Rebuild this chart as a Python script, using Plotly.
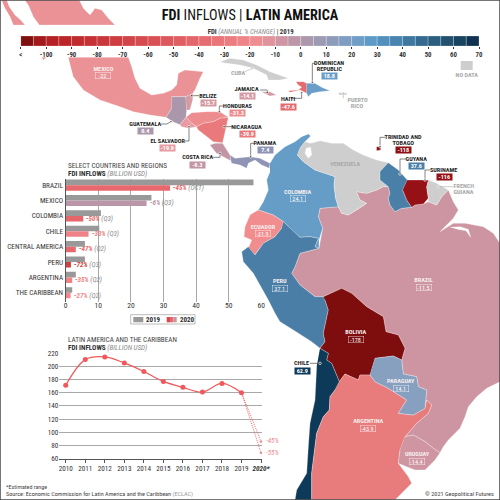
import plotly.graph_objects as go

# ---------- DATA ----------
bar_categories = ["BRAZIL", "MEXICO", "COLOMBIA", "CHILE", "CENTRAL AMERICA", "PERU", "ARGENTINA", "THE CARIBBEAN"]
fdi_2019 = [57.6, 26.3, 10.8, 10.3, 5.9, 5.9, 3.1, 2.0]
fdi_2020 = [32.0, 24.8, 5.4, 7.0, 3.1, 1.6, 2.0, 1.5]
bar_change = ["-45%", "-6%", "-50%", "-33%", "-47%", "-72%", "-35%", "-27%"]
bar_period = ["(OCT)", "(Q3)", "(Q3)", "(Q3)", "(Q2)", "(Q3)", "(Q2)", "(Q2)"]
bar_colors_2020 = ["#e8696d", "#bb96a8", "#e5676b", "#ef8286", "#e5696d", "#d13e42", "#ee8387", "#f0898d"]

years = [2010, 2011, 2012, 2013, 2014, 2015, 2016, 2017, 2018, 2019]
inflows = [171, 210, 214, 205, 192, 177, 168, 161, 174, 160]
est_years = [2019, 2020]
est_high = [160, 86]
est_low = [160, 69]

scale_bins = [-107.5, -102.5, -97.5, -92.5, -87.5, -82.5, -77.5, -72.5, -67.5, -62.5, -57.5, -52.5,
              -47.5, -42.5, -37.5, -32.5, -27.5, -22.5, -17.5, -12.5, -7.5, -2.5, 2.5, 7.5, 12.5, 17.5,
              22.5, 27.5, 32.5, 37.5, 42.5, 47.5, 52.5, 57.5, 62.5, 67.5]
scale_colors = ["#80100f", "#a31a1c", "#b52125", "#bb2629", "#c02b2f", "#c53135", "#c9373b", "#cd3e41", "#d14448",
                "#d54b4f", "#d95155", "#dc585c", "#e05f63", "#e3666a", "#e66d71", "#ea7478", "#ed7c80", "#f08589",
                "#ee8e92", "#e0939a", "#cd96a2", "#bd97a8", "#ac98ad", "#9d9bb3", "#8e9cba", "#7f9dc0", "#709dc6",
                "#5f9bc9", "#5290bd", "#4884af", "#3e789f", "#356b90", "#2c5e80", "#225170", "#194460", "#0f3350"]
scale_ticks = [-110, -100, -90, -80, -70, -60, -50, -40, -30, -20, -10, 0, 10, 20, 30, 40, 50, 60, 70]
scale_labels = ["<", "-100", "-90", "-80", "-70", "-60", "-50", "-40", "-30", "-20", "-10", "0", "10", "20", "30", "40", "50", "60", "70"]

# Outlines, (x, y) in the 3x crop units of each crop
def top(p): return [(a / 3, b / 3) for a, b in p]
def mid(p): return [(220 + a / 3, 130 + b / 3) for a, b in p]
def low(p): return [(260 + a / 3, 300 + b / 3) for a, b in p]

GRAY = "#cecece"
mexico_north = top([(75,0),(238,0),(250,25),(270,45),(285,25),(305,30),(325,55),(345,75),(118,75),(100,50),(85,15)])
baja = top([(5,0),(20,0),(28,20),(45,45),(62,60),(75,75),(40,75),(30,50),(15,25)])
baja_tip = top([(125,172),(140,172),(130,180)])
mexico = top([(205,172),(385,172),(395,200),(405,235),(420,265),(455,285),(490,280),(515,270),(530,255),(535,220),
              (555,210),(610,215),(600,235),(585,270),(575,285),(557,290),(515,290),(515,325),(498,352),(450,345),
              (400,335),(360,320),(300,300),(250,270),(220,230)])
guatemala = top([(515,290),(557,290),(560,330),(558,352),(540,374),(520,366),(498,352),(515,325)])
belize = top([(557,290),(580,280),(578,300),(570,330),(560,330)])
honduras = top([(558,352),(575,338),(620,335),(660,335),(685,352),(660,355),(640,365),(610,370),(590,380),(575,370)])
nicaragua = top([(590,380),(610,370),(640,365),(660,355),(685,352),(675,400),(668,428),(640,425),(615,405),(595,390)])
salvador = top([(540,374),(558,352),(575,370),(590,380),(565,385),(545,380)])
costa_rica = top([(630,435),(645,430),(668,430),(690,465),(692,482),(670,470),(650,460)])
panama = mid([(30,75),(45,85),(90,80),(120,85),(150,100),(148,115),(125,105),(105,90),(85,100),(80,115),(60,105),(35,100)])
cuba = top([(660,185),(690,175),(730,180),(770,195),(810,215),(865,235),(840,240),(805,240),(800,225),(760,205),(720,195),(680,190)])
jamaica = top([(785,275),(810,275),(830,285),(810,288)])
haiti = top([(888,245),(910,245),(920,250),(920,280),(900,270),(870,277),(865,272),(895,270),(905,262),(895,255)])
dominican = top([(920,250),(945,250),(965,262),(990,272),(960,275),(935,280),(925,290),(920,280)])
puerto_rico = top([(1015,278),(1040,278),(1040,285),(1018,285)])
trinidad = top([(1130,440),(1142,440),(1142,450),(1130,452)])
colombia = mid([(150,100),(165,75),(195,50),(225,35),(245,20),(265,12),(272,18),(255,35),(240,55),(232,75),(250,95),
                (285,120),(315,130),(345,140),(342,165),(347,205),(355,230),(300,235),(295,260),(308,295),(297,330),
                (297,355),(285,350),(295,325),(270,320),(240,322),(215,300),(190,275),(160,255),(115,240),(130,215),
                (145,180),(140,150),(150,125)])
venezuela = mid([(240,55),(255,35),(272,40),(300,32),(335,40),(370,40),(400,60),(430,75),(470,90),(505,98),(480,125),
                 (480,150),(505,170),(490,170),(470,180),(440,190),(410,185),(420,210),(440,220),(410,240),(385,255),
                 (365,250),(355,230),(347,205),(342,165),(345,140),(315,130),(285,120),(250,95),(232,75)])
maracaibo = mid([(258,55),(272,52),(275,75),(265,85),(255,70)])
guyana = mid([(505,98),(535,120),(562,150),(548,180),(560,210),(575,232),(545,235),(525,245),(510,225),(505,205),
              (510,190),(505,170),(480,150),(480,125)])
suriname = mid([(562,150),(625,150),(620,170),(625,205),(610,222),(585,225),(575,232),(560,210),(548,180)])
french_guiana = mid([(625,150),(650,160),(685,180),(665,200),(650,225),(625,215),(625,205),(620,170)])
ecuador = mid([(115,240),(160,255),(190,275),(185,295),(165,320),(130,340),(115,360),(105,375),(85,355),(95,330),(72,320),(75,290),(90,255)])
peru = mid([(190,275),(215,300),(240,322),(270,320),(295,325),(285,350),(297,355),(240,370),(225,410),(215,430),(240,465),(285,500),(310,500)]) + \
       low([(195,0),(205,30),(190,100),(195,125),(180,145),(155,125),(100,90),(60,65),(45,40),(25,0)]) + \
       mid([(100,430),(70,395),(65,365),(85,350),(105,375),(115,360),(130,340),(165,320),(185,295)])
brazil = mid([(410,185),(440,190),(470,180),(490,170),(505,170),(510,190),(505,205),(510,225),(525,245),(545,235),(575,232),(585,225),(610,222),(625,215),
              (650,225),(665,200),(685,180),(700,215),(715,240),(700,265),(680,285),(660,305),(700,280),(735,280),(790,290),
              (820,310),(840,340),(900,340),(900,760)]) + \
         low([(720,245),(680,265),(650,290),(625,320),(615,350),(600,385),(580,405),(565,420),(550,440),(540,458),(520,445),
              (495,425),(460,405),(435,410),(470,370),(505,340),(515,315),(500,300),(495,325),(500,270),(475,260),(470,230),
              (430,222),(425,180),(435,145),(415,105),(378,95),(370,50),(320,20),(275,-20),(245,-35),(190,-10)]) + \
         mid([(285,500),(240,465),(215,430),(225,410),(240,370),(297,355),(308,295),(295,260),(300,235),(355,230),(365,250),
              (385,255),(410,240),(440,220),(420,210)])
amazon_mouth = mid([(690,292),(720,290),(745,298),(752,322),(738,302),(712,298)])
bolivia = low([(190,-10),(245,-35),(275,-20),(320,20),(370,50),(378,95),(415,105),(435,145),(425,180),(400,168),(345,175),
               (330,225),(300,225),(295,240),(255,222),(238,245),(215,190),(200,180),(205,160),(180,145),(195,125),(190,100),(205,30),(195,0)])
chile = low([(180,145),(205,160),(200,180),(215,190),(238,245),(225,270),(210,290),(208,330),(190,350),(170,400),(165,440),
             (155,520),(155,600),(105,600),(110,570),(140,520),(145,440),(150,370),(165,300),(170,200)])
argentina = low([(238,245),(255,222),(295,240),(300,225),(330,225),(345,245),(385,265),(440,300),(415,340),(460,345),(495,325),
                 (500,300),(515,315),(505,340),(470,370),(435,410),(420,450),(415,490),(430,510),(445,530),(455,550),(430,575),
                 (405,600),(155,600),(155,520),(165,440),(170,400),(190,350),(208,330),(210,290),(225,270)])
paraguay = low([(345,175),(400,168),(425,180),(430,222),(470,230),(475,260),(500,270),(495,325),(460,345),(415,340),(440,300),(385,265),(345,245),(330,225)])
uruguay = low([(435,410),(460,405),(495,425),(520,445),(540,458),(525,480),(495,510),(465,510),(440,500),(415,490),(420,450)])

map_shapes = [
    (brazil, "#cd95a1"), (amazon_mouth, "#ffffff"), (mexico_north, "#ea9296"), (baja, "#ea9296"), (baja_tip, "#ea9296"), (mexico, "#ea9296"),
    (guatemala, "#ab97ac"), (belize, "#d69aa2"), (honduras, "#ee8d8f"), (nicaragua, "#e9797b"), (salvador, "#e79aa0"),
    (costa_rica, "#c394a3"), (panama, "#8f94b5"), (cuba, GRAY), (jamaica, "#d69aa4"), (haiti, "#e66a6e"),
    (dominican, "#6a9dc8"), (puerto_rico, GRAY), (trinidad, "#8e1014"), (colombia, "#669dc7"), (venezuela, GRAY),
    (maracaibo, "#ffffff"), (guyana, "#4a80a8"), (suriname, "#961116"), (french_guiana, GRAY), (ecuador, "#f18d8f"),
    (peru, "#4a7ea6"), (bolivia, "#7e0d0e"), (chile, "#0e3a5a"), (argentina, "#e87b7b"), (paraguay, "#87a0c0"),
    (uruguay, "#cf96a2"),
]

on_land = [
    ("MEXICO", 103, 68.6, "-22", 75.9, "#ea9296"), ("COLOMBIA", 297.7, 191.6, "24.1", 198.5, "#669dc7"),
    ("ECUADOR", 263.3, 226.6, "-31.9", 233.5, "#f18d8f"), ("PERU", 280.3, 281.3, "37.1", 288.5, "#4a7ea6"),
    ("BRAZIL", 424, 280.3, "-11.5", 287.2, "#cd95a1"), ("BOLIVIA", 355.7, 332.3, "-178", 339.2, "#7e0d0e"),
    ("PARAGUAY", 401, 380.9, "14.1", 388.2, "#87a0c0"), ("ARGENTINA", 368.3, 420.9, "-43.9", 428.2, "#e87b7b"),
    ("URUGUAY", 416.7, 453.9, "-14.4", 461.2, "#cf96a2"),
]
off_land = [
    ("DOMINICAN<br>REPUBLIC", 329, 66, "18.8", 76.2, "#6a9dc8"), ("JAMAICA", 247.3, 89.3, "-14.1", 96.4, "#d69aa4"),
    ("HAITI", 288.3, 98.9, "-47.6", 106.5, "#e66a6e"), ("BELIZE", 208, 95.6, "-15.7", 103, "#d69aa2"),
    ("HONDURAS", 237.7, 105.9, "-31.3", 113.2, "#ee8d8f"), ("NICARAGUA", 247.3, 126.6, "-39.9", 134, "#e9797b"),
    ("GUATEMALA", 145.3, 123.9, "0.4", 131.2, "#ab97ac"), ("EL SALVADOR", 167.7, 140.6, "-19.9", 148, "#e79aa0"),
    ("COSTA RICA", 197.7, 157.3, "-9.3", 164.6, "#c394a3"), ("PANAMA", 265, 142.9, "7.4", 150.2, "#8f94b5"),
    ("TRINIDAD AND<br>TOBAGO", 403.3, 139.7, "-118", 149.6, "#8e1014"), ("GUYANA", 416.7, 158.6, "37.6", 166, "#4a80a8"),
    ("SURINAME", 444, 169.9, "-116", 177.2, "#961116"), ("CHILE", 302.3, 362.9, "62.9", 370.5, "#0e3a5a"),
]
no_data_labels = [("CUBA", 238.3, 72.7), ("PUERTO<br>RICO", 357.3, 103), ("VENEZUELA", 345.7, 164),
                  ("FRENCH<br>GUIANA", 464.3, 189), ("NO DATA", 466.7, 75)]
leaders = [
    top([(945,190),(937,190),(937,247)]), top([(780,270),(802,270),(802,277)]), top([(873,295),(905,295),(905,278)]),
    top([(597,287),(575,287)]), top([(672,318),(658,318),(658,335)]), top([(697,380),(672,380)]),
    top([(483,372),(500,372),(513,365)]), top([(555,423),(567,423),(567,380)]), top([(640,472),(660,472),(660,460)]),
    top([(762,430),(752,430),(752,470)]), top([(1155,412),(1140,412),(1140,440)]),
    mid([(558,87),(540,87),(540,132)]), mid([(630,120),(615,120),(615,150)]), low([(150,190),(180,190)]),
]
gray_leaders = [top([(735,215),(757,205)]), top([(1030,295),(1030,280)]), mid([(700,170),(655,170)])]

# ---------- FIGURE ----------
FONT = "Roboto, sans-serif"
DARK = "#2b2b2b"
fig = go.Figure()

fig.add_trace(go.Bar(y=list(range(8)), x=fdi_2019, orientation="h", marker_color="#999999", offsetgroup=0, xaxis="x", yaxis="y", hoverinfo="skip"))
fig.add_trace(go.Bar(y=list(range(8)), x=fdi_2020, orientation="h", marker_color=bar_colors_2020, offsetgroup=1, xaxis="x", yaxis="y", hoverinfo="skip"))

fig.add_trace(go.Scatter(x=years, y=inflows, mode="lines+markers", line=dict(color="#f0585c", width=1.2, shape="spline", smoothing=1.0),
                         marker=dict(size=5, color="#f0585c"), xaxis="x2", yaxis="y2", hoverinfo="skip"))
for est in (est_high, est_low):
    fig.add_trace(go.Scatter(x=est_years, y=est, mode="lines+markers", line=dict(color="#f0585c", width=0.9, dash="1px,1px"),
                             marker=dict(size=[0, 3.5], color="#f0585c"), xaxis="x2", yaxis="y2", hoverinfo="skip"))

for pts, col in map_shapes:
    fig.add_trace(go.Scatter(x=[p[0] for p in pts], y=[p[1] for p in pts], mode="lines", fill="toself", fillcolor=col,
                             line=dict(color="rgba(255,255,255,0.7)", width=0.4), xaxis="x3", yaxis="y3", hoverinfo="skip"))
for group, col in ((leaders, "#333333"), (gray_leaders, "#aaaaaa")):
    for pts in group:
        fig.add_trace(go.Scatter(x=[p[0] for p in pts], y=[p[1] for p in pts], mode="lines+markers",
                                 line=dict(color=col, width=0.6), marker=dict(size=[0] * (len(pts) - 1) + [2.5], color=col),
                                 xaxis="x3", yaxis="y3", hoverinfo="skip"))

fig.add_trace(go.Bar(x=scale_bins, y=[1] * len(scale_bins), width=5, marker=dict(color=scale_colors, line=dict(color="rgba(255,255,255,0.6)", width=0.4)),
                     xaxis="x4", yaxis="y4", hoverinfo="skip"))

def T(x, y, text, size=6.8, color=DARK, **kw):
    fig.add_annotation(xref="x3", yref="y3", x=x, y=y, text=text, showarrow=False, font=dict(family=FONT, size=size, color=color),
                       align=kw.pop("align", "center"), **kw)

def name_label(name, x, y, color):
    lines = name.split("<br>")
    for k, line in enumerate(lines):
        T(x, y + (k - (len(lines) - 1) / 2) * 6.3, f"<b>{line}</b>", color=color, size=6.2)

T(250, 15, "<b>FDI</b> INFLOWS | <b>LATIN AMERICA</b>", size=14.2, color="#111111")
T(250, 32, '<b>FDI</b> <i><span style="color:#8a8a8a">(ANNUAL % CHANGE)</span></i> | <b>2019</b>', size=6.8, color="#333333")

for name, x, y, val, vy, col in on_land:
    name_label(name, x, y, "#f6eeee")
    T(x, vy, val, color="#ffffff", bgcolor=col, bordercolor="rgba(255,255,255,0.8)", borderwidth=0.5, borderpad=0, size=6.2, width=14.5, height=6)
for name, x, y, val, vy, col in off_land:
    name_label(name, x, y, "#1e1e1e")
    T(x, vy, f"<b>{val}</b>", color="#ffffff", bgcolor=col, borderpad=0, size=6.2, width=15, height=6.2)
for name, x, y in no_data_labels:
    name_label(name, x, y, "#a9a9a9")

T(66, 165.5, "SELECT COUNTRIES AND REGIONS", size=7.2, color="#444444", xanchor="left", align="left")
T(66, 173, '<b>FDI INFLOWS</b> <i><span style="color:#8a8a8a">(BILLION USD)</span></i>', size=7.2, color="#333333", xanchor="left", align="left")
for i, (v, c, p, col) in enumerate(zip(fdi_2020, bar_change, bar_period, bar_colors_2020)):
    fig.add_annotation(xref="x", yref="y", x=v, y=i + 0.18, xanchor="left", xshift=1, showarrow=False, align="left",
                       text=f'<b><i><span style="color:{col}">{c}</span></i></b> <i><span style="color:#8a8a8a">{p}</span></i>',
                       font=dict(family=FONT, size=7))
fig.add_shape(type="rect", xref="x3", yref="y3", x0=130.7, x1=195, y0=314.7, y1=324, line=dict(color="#aaaaaa", width=0.8), fillcolor="white")
fig.add_shape(type="rect", xref="x3", yref="y3", x0=133.3, x1=143.3, y0=317, y1=322.3, line_width=0, fillcolor="#999999")
fig.add_shape(type="rect", xref="x3", yref="y3", x0=166.7, x1=170, y0=317, y1=322.3, line_width=0, fillcolor="#d8494d")
fig.add_shape(type="rect", xref="x3", yref="y3", x0=170, x1=173.4, y0=317, y1=322.3, line_width=0, fillcolor="#e8696d")
fig.add_shape(type="rect", xref="x3", yref="y3", x0=173.4, x1=176.7, y0=317, y1=322.3, line_width=0, fillcolor="#cb93a4")
T(152.5, 319.6, "<b>2019</b>", size=7)
T(186.5, 319.6, "<b>2020</b>", size=7)

T(66, 339.5, "LATIN AMERICA AND THE CARIBBEAN", size=7.2, color="#444444", xanchor="left", align="left")
T(66, 347, '<b>FDI INFLOWS</b> <i><span style="color:#8a8a8a">(BILLION USD)</span></i>', size=7.2, color="#333333", xanchor="left", align="left")
T(264, 441, "<i>-45%</i>", size=7, color="#f08a8e", xanchor="left", align="left")
T(264, 453, "<i>-55%</i>", size=7, color="#f08a8e", xanchor="left", align="left")

T(4, 486, "*Estimated range", size=6, color="#444444", xanchor="left", align="left")
T(4, 494, 'Source: Economic Commission for Latin America and the Caribbean <span style="color:#9a9a9a">(ECLAC)</span>', size=6.2, color="#444444", xanchor="left", align="left")
T(496, 494, "© 2021 Geopolitical Futures", size=6.2, color="#444444", xanchor="right", align="right")
fig.add_shape(type="rect", xref="x3", yref="y3", x0=460.7, x1=472.7, y0=61, y1=70, line_width=0, fillcolor=GRAY)
fig.add_shape(type="rect", xref="paper", yref="paper", x0=0, x1=1, y0=0, y1=1, line=dict(color="#4a4a4a", width=1.5), layer="above")

H = 500.0
def xd(a, b): return [a / H, b / H]
def yd(top_px, bot_px): return [1 - bot_px / H, 1 - top_px / H]

tick_font = dict(family=FONT, size=7.2, color="#333333")
fig.update_layout(
    template="none", width=500, height=500, autosize=False, margin=dict(l=0, r=0, t=0, b=0, pad=0), showlegend=False, hovermode=False,
    paper_bgcolor="white", plot_bgcolor="rgba(0,0,0,0)", barmode="group", bargap=0.28, bargroupgap=0,
    xaxis=dict(automargin=False, tickangle=0, domain=xd(65.7, 261.3), range=[0, 60], anchor="y", tickvals=[0, 10, 20, 30, 40, 50, 60], showgrid=True, gridcolor="#a9a9a9", gridwidth=1,
               zeroline=False, showline=False, tickfont=dict(family=FONT, size=7.6, color="#333333"), ticks="", ticklabelstandoff=-3),
    yaxis=dict(automargin=False, domain=yd(179, 302), range=[7.6, -0.4], anchor="x", tickvals=list(range(8)), ticktext=bar_categories, showgrid=False, zeroline=False,
               showline=True, linecolor="#555555", linewidth=1.4, tickfont=tick_font, ticks=""),
    xaxis2=dict(automargin=False, tickangle=0, domain=xd(59.3, 262), range=[2009.67, 2020.05], anchor="y2", tickvals=years + [2020], ticktext=[str(y) for y in years] + ["<b><i>2020*</i></b>"],
                showgrid=False, zeroline=False, showline=True, linecolor="#555555", linewidth=1, ticks="outside", ticklen=3, tickcolor="#555555", tickwidth=0.7, tickfont=tick_font),
    yaxis2=dict(automargin=False, domain=yd(353, 458.7), range=[60, 220], anchor="x2", tickvals=[60, 80, 100, 120, 140, 160, 180, 200, 220], showgrid=True, gridcolor="#a9a9a9", gridwidth=1,
                zeroline=False, showline=False, tickfont=tick_font, ticks=""),
    xaxis3=dict(automargin=False, domain=[0, 1], range=[0, 500], anchor="y3", visible=False, fixedrange=True),
    yaxis3=dict(automargin=False, domain=[0, 1], range=[500, 0], anchor="x3", visible=False, fixedrange=True),
    xaxis4=dict(automargin=False, tickangle=0, domain=xd(20.7, 479), range=[-110, 70], anchor="y4", tickvals=scale_ticks, ticktext=[f"<b>{s}</b>" for s in scale_labels], showgrid=False, zeroline=False,
                ticks="outside", ticklen=1.5, tickwidth=0.6, tickcolor="#333333", tickfont=dict(family=FONT, size=6.8, color="#333333")),
    yaxis4=dict(automargin=False, domain=yd(36, 46), range=[0, 1], anchor="x4", visible=False),
)
fig.write_html("out.html", config={"displayModeBar": False},
               post_script="document.body.style.margin='0';var s=document.createElement('style');s.textContent='svg text{font-stretch:75%;}';document.head.appendChild(s);")
